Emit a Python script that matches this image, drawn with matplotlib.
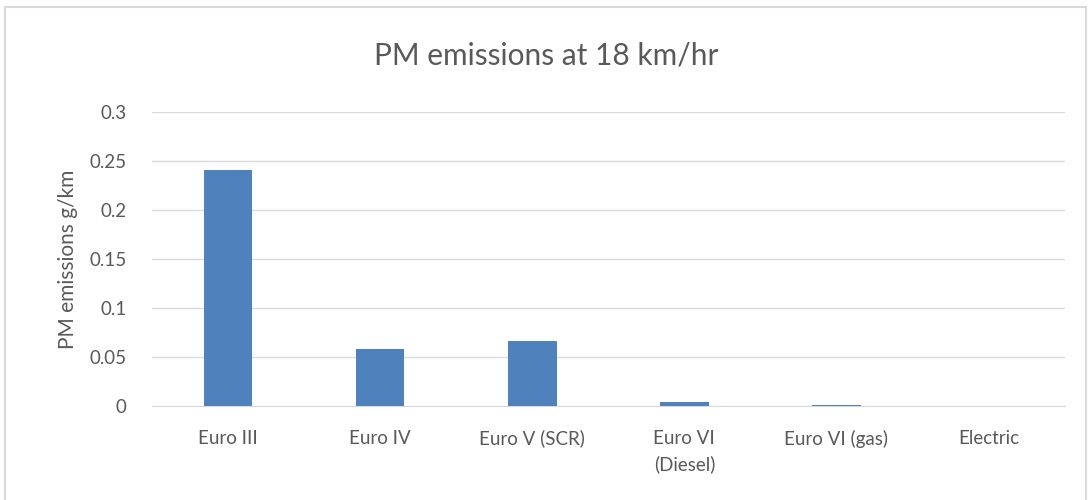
import matplotlib.pyplot as plt
from matplotlib.patches import Rectangle
from matplotlib.ticker import FuncFormatter

categories = ['Euro III', 'Euro IV', 'Euro V (SCR)', 'Euro VI\n(Diesel)', 'Euro VI (gas)', 'Electric']
pm_values = [0.241, 0.058, 0.066, 0.004, 0.0015, 0.0]
y_ticks = [0, 0.05, 0.1, 0.15, 0.2, 0.25, 0.3]

plt.rcParams['font.family'] = ['Lato', 'DejaVu Sans']
text_color = '#595959'

fig = plt.figure(figsize=(10.92, 5), dpi=100)
ax = fig.add_axes([0.139, 0.188, 0.836, 0.588])

x = range(len(categories))
ax.bar(x, pm_values, width=0.32, color='#4F81BD', zorder=3)

ax.set_xlim(-0.5, len(categories) - 0.5)
ax.set_ylim(0, 0.3)
ax.set_yticks(y_ticks)
ax.yaxis.set_major_formatter(FuncFormatter(lambda v, p: ('%g' % round(v, 3))))
ax.set_xticks(list(x))
ax.set_xticklabels(categories, linespacing=1.55, va='top')
ax.grid(axis='y', color='#D9D9D9', linewidth=1, zorder=0)

for s in ['top', 'right', 'left']:
    ax.spines[s].set_visible(False)
ax.spines['bottom'].set_color('#D9D9D9')
ax.tick_params(axis='both', length=0, colors=text_color, labelsize=13.5)
ax.tick_params(axis='x', pad=17)
ax.tick_params(axis='y', pad=18)

ax.set_ylabel('PM emissions g/km', fontsize=15, color=text_color, labelpad=8)
fig.text(0.5, 0.89, 'PM emissions at 18 km/hr', ha='center', va='center',
         fontsize=21.5, color=text_color)

fig.patches.append(Rectangle((5 / 1092, -0.01), 1081 / 1092, 0.997, transform=fig.transFigure,
                             fill=False, edgecolor='#D9D9D9', linewidth=1.5))

fig.savefig('out.png', dpi=100, facecolor='white')
